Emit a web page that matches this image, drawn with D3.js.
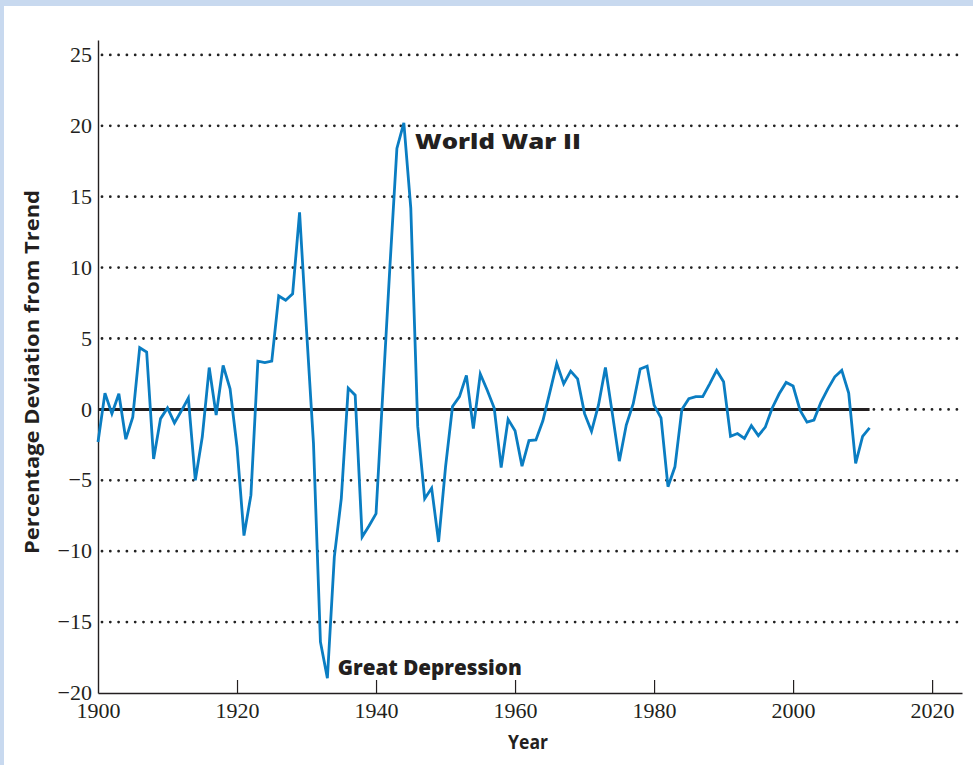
<!DOCTYPE html>
<html>
<head>
<meta charset="utf-8">
<script src="https://cdn.jsdelivr.net/npm/d3@7"></script>
<style>
  html, body { margin: 0; padding: 0; background: #fff; }
  svg { display: block; }
</style>
</head>
<body>
<svg id="chart" width="973" height="765"></svg>
<script>
const startYear = 1900;
const values = [
  -2.3, 1.15, -0.3, 1.1, -2.1, -0.55, 4.35, 4.05, -3.5, -0.65,
  0.1, -0.95, -0.1, 0.8, -5.0, -1.95, 2.95, -0.4, 3.1, 1.45,
  -2.65, -8.9, -6.05, 3.4, 3.3, 3.4, 8.0, 7.7, 8.15, 13.9,
  5.6, -2.4, -16.4, -18.95, -10.4, -6.3, 1.5, 1.0, -9.0, -8.2,
  -7.35, 1.4, 10.1, 18.4, 20.2, 14.2, -1.2, -6.3, -5.55, -9.35,
  -4.05, 0.2, 0.9, 2.4, -1.35, 2.5, 1.35, 0.1, -4.1, -0.7,
  -1.5, -4.0, -2.2, -2.15, -0.8, 1.2, 3.25, 1.8, 2.7, 2.15,
  -0.3, -1.55, 0.3, 2.95, -0.3, -3.65, -1.1, 0.4, 2.85, 3.05,
  0.3, -0.6, -5.45, -4.05, 0.0, 0.75, 0.9, 0.9, 1.8, 2.75,
  1.95, -1.9, -1.7, -2.05, -1.15, -1.85, -1.25, 0.1, 1.1, 1.9,
  1.65, -0.05, -0.9, -0.75, 0.5, 1.45, 2.3, 2.75, 1.15, -3.8,
  -1.9, -1.3
];
const years = values.map((v, i) => startYear + i);
const xTicks = [1900, 1920, 1940, 1960, 1980, 2000, 2020];
const yTicks = [-20, -15, -10, -5, 0, 5, 10, 15, 20, 25];
const gridTicks = [-15, -10, -5, 0, 5, 10, 15, 20, 25];
const annotations = [
  { text: "World War II", year: 1945.6, value: 18.35, width: 166 },
  { text: "Great Depression", year: 1934.5, value: -18.7, width: 184 }
];

const svg = d3.select("#chart");
const W = 973, H = 765;
const margin = { left: 98, right: 11, top: 40, bottom: 72 };

// frame band
svg.append("rect").attr("x", 0).attr("y", 0).attr("width", W).attr("height", 6).attr("fill", "#c8d9ef");
svg.append("rect").attr("x", 0).attr("y", 0).attr("width", 4).attr("height", H).attr("fill", "#c8d9ef");

const x = d3.scaleLinear().domain([1900, 2024.3]).range([margin.left, W - margin.right]);
const y = d3.scaleLinear().domain([-20, 26.05]).range([H - margin.bottom, margin.top]);

// dotted gridlines
svg.append("g").selectAll("line").data(gridTicks).join("line")
  .attr("x1", x(1900) + 4).attr("x2", x(2024.3) - 2)
  .attr("y1", d => y(d)).attr("y2", d => y(d))
  .attr("stroke", "#222").attr("stroke-width", 2.8)
  .attr("stroke-linecap", "round").attr("stroke-dasharray", "0,8.3");

const serif = "Liberation Serif, Times New Roman, serif";

// x axis
const xAxis = d3.axisBottom(x).tickValues(xTicks).tickSize(0).tickPadding(10).tickFormat(d3.format("d"));
const gx = svg.append("g").attr("transform", `translate(0,${y(-20)})`).call(xAxis);
gx.select(".domain").attr("stroke", "#231f20").attr("stroke-width", 1.4);
gx.selectAll(".tick text").attr("font-family", serif)
  .attr("font-size", 22).attr("fill", "#231f20").attr("dy", "0.7em");
gx.selectAll(".tick").filter(d => d !== 1900).append("line")
  .attr("y1", 0).attr("y2", -13).attr("stroke", "#231f20").attr("stroke-width", 1.2);

// y axis
const yAxis = d3.axisLeft(y).tickValues(yTicks).tickSize(0).tickPadding(6)
  .tickFormat(d => d < 0 ? "\u2212" + Math.abs(d) : String(d));
const gy = svg.append("g").attr("transform", `translate(${x(1900)},0)`).call(yAxis);
gy.select(".domain").attr("stroke", "#231f20").attr("stroke-width", 1.4);
gy.selectAll(".tick text").attr("font-family", serif)
  .attr("font-size", 22).attr("fill", "#231f20").attr("dy", "0.3em");

// zero line
svg.append("line")
  .attr("x1", x(years[0])).attr("x2", x(years[years.length - 1]))
  .attr("y1", y(0)).attr("y2", y(0))
  .attr("stroke", "#231f20").attr("stroke-width", 3);

// data line
const line = d3.line().x((d, i) => x(years[i])).y(d => y(d));
svg.append("path").datum(values)
  .attr("d", line).attr("fill", "none")
  .attr("stroke", "#0a7dc2").attr("stroke-width", 2.8)
  .attr("stroke-linejoin", "miter");

// annotations
svg.append("g").selectAll("text").data(annotations).join("text")
  .attr("x", d => x(d.year)).attr("y", d => y(d.value))
  .attr("font-family", "Open Sans, sans-serif").attr("font-weight", 800)
  .attr("font-size", 21).attr("fill", "#231f20")
  .attr("textLength", d => d.width).attr("lengthAdjust", "spacingAndGlyphs")
  .text(d => d.text);

// axis titles
svg.append("text")
  .attr("x", (x(1900) + x(2024.3)) / 2 - 2).attr("y", 749)
  .attr("text-anchor", "middle")
  .attr("font-family", "Open Sans, sans-serif").attr("font-weight", 700)
  .attr("font-size", 19).attr("fill", "#231f20")
  .attr("textLength", 40).attr("lengthAdjust", "spacingAndGlyphs")
  .text("Year");

svg.append("text")
  .attr("transform", `translate(39,372) rotate(-90)`)
  .attr("text-anchor", "middle")
  .attr("font-family", "Open Sans, sans-serif").attr("font-weight", 700)
  .attr("font-size", 19).attr("fill", "#231f20")
  .attr("textLength", 364).attr("lengthAdjust", "spacingAndGlyphs")
  .text("Percentage Deviation from Trend");
</script>
</body>
</html>
